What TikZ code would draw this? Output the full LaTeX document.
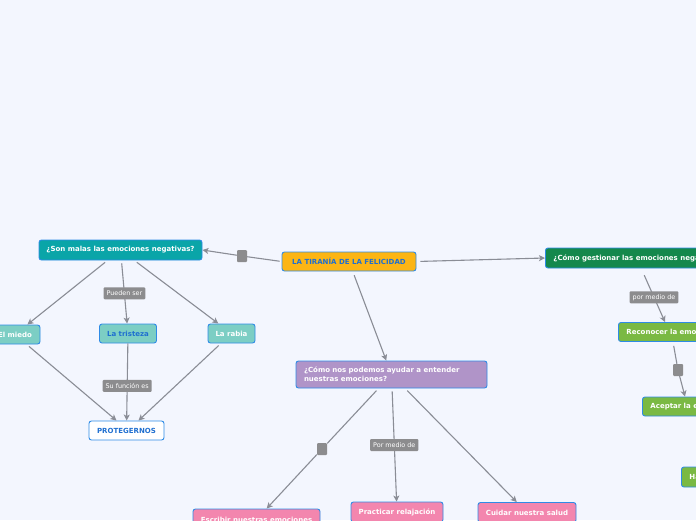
\documentclass[tikz,border=0pt]{standalone}
\usepackage{fontspec}
\setsansfont{DejaVu Sans}
\usetikzlibrary{arrows.meta,calc}
\definecolor{bg}{HTML}{F3F6FE}
\definecolor{bordc}{HTML}{2E8BE6}
\definecolor{txtblue}{HTML}{1F6FD0}
\definecolor{orangec}{HTML}{FCB514}
\definecolor{tealc}{HTML}{0AA5A8}
\definecolor{lteal}{HTML}{7CCEC4}
\definecolor{dgreen}{HTML}{14884C}
\definecolor{lgreen}{HTML}{7AB943}
\definecolor{purplec}{HTML}{B094C8}
\definecolor{pinkc}{HTML}{F386AE}
\definecolor{linec}{HTML}{8A8D96}
\definecolor{labc}{HTML}{8C8C8E}
\tikzset{
  box/.style={draw=bordc, line width=0.9pt, rounded corners=2.5pt, inner xsep=6pt, inner ysep=2pt,
    minimum height=19pt, font=\sffamily\bfseries\fontsize{7}{9}\selectfont, text=white},
  lab/.style={fill=labc, rounded corners=1pt, inner xsep=3pt, inner ysep=2pt, minimum height=12pt,
    font=\sffamily\fontsize{6.4}{7.5}\selectfont, text=white},
  sq/.style={fill=labc, rounded corners=1pt, minimum width=10pt, minimum height=12pt, inner sep=0pt},
  conn/.style={draw=linec, line width=1.1pt},
  arr/.style={conn, -{Stealth[length=6pt,width=6pt,inset=1.5pt]}},
}
\begin{document}
\begin{tikzpicture}[x=1pt,y=-1pt]
\useasboundingbox (0,0) rectangle (696,520);
\fill[bg] (0,0) rectangle (696,520);
\clip (0,0) rectangle (696,520);

% nodes
\node[box, fill=orangec, text=txtblue, minimum width=134pt] (main) at (349,261.5) {LA TIRANÍA DE LA FELICIDAD};
\node[box, fill=tealc, minimum width=163pt, minimum height=20pt] (malas) at (120.5,250) {¿Son malas las emociones negativas?};
\node[box, fill=lteal, minimum width=50pt] (miedo) at (15,334.5) {El miedo};
\node[box, fill=lteal, text=txtblue, minimum width=57pt] (tristeza) at (128,333.5) {La tristeza};
\node[box, fill=lteal, minimum width=47pt] (rabia) at (231.5,333.5) {La rabia};
\node[box, fill=white, text=txtblue, minimum width=75pt] (prot) at (126.5,430.5) {PROTEGERNOS};

\node[box, fill=dgreen, anchor=west, inner xsep=8pt, minimum height=20pt] (gest) at (545,258) {¿Cómo gestionar las emociones negativas?};
\node[box, fill=lgreen, anchor=west, inner xsep=8pt] (recon) at (618,332) {Reconocer la emoción};
\node[box, fill=lgreen, anchor=west, inner xsep=8pt] (acept) at (642,406.5) {Aceptar la emoción};
\node[box, fill=lgreen, anchor=west, inner xsep=8pt, minimum height=20pt] (hab) at (681,477) {Hablar de ella};

\node[box, fill=purplec, text width=175pt, inner xsep=8pt, align=left, minimum height=27pt] (ayudar) at (391.5,374.5) {¿Cómo nos podemos ayudar a entender\\nuestras emociones?};
\node[box, fill=pinkc, minimum width=127pt, minimum height=21pt] (escribir) at (256.5,519.5) {Escribir nuestras emociones};
\node[box, fill=pinkc, minimum width=92pt, minimum height=20pt] (relaj) at (397,512) {Practicar relajación};
\node[box, fill=pinkc, minimum width=98pt, minimum height=20pt] (salud) at (527,512.5) {Cuidar nuestra salud};

% connector squares
\node[sq] (s1) at (242,256) {};
\node[sq] (s2) at (678,370) {};
\node[sq] (s3) at (322,449) {};

% connectors
\draw[conn, shorten <=2pt] (main.west) -- (s1);
\draw[arr] (s1) -- (malas.east);
\draw[arr, shorten <=4pt] (main.east) -- (gest.west);
\draw[arr, shorten <=4pt] (main) -- (ayudar);

\draw[arr, shorten <=3pt] (malas) -- (miedo);
\draw[arr, shorten <=3pt] (malas) -- node[lab, pos=0.52] {Pueden ser} (tristeza);
\draw[arr, shorten <=3pt] (malas) -- (rabia);

\draw[arr, shorten <=3pt] (miedo) -- ($(prot.north)+(-10,0)$);
\draw[arr, shorten <=0pt] (tristeza) -- node[lab, pos=0.55] {Su función es} (prot);
\draw[arr, shorten <=3pt] (rabia) -- ($(prot.north)+(12,0)$);

\draw[arr, shorten <=3pt] ($(gest.south west)+(98,4)$) -- node[lab] {por medio de} ($(recon.north west)+(47,0)$);
\draw[conn, shorten <=4pt] ($(recon.south west)+(55,0)$) -- (s2);
\draw[arr] (s2) -- ($(acept.north west)+(43,0)$);

\draw[conn, shorten <=3pt] (ayudar) -- (s3);
\draw[arr] (s3) -- (escribir);
\draw[arr, shorten <=3pt] (ayudar) -- node[lab, pos=0.5] {Por medio de} (relaj);
\draw[arr, shorten <=3pt] (ayudar) -- (salud);
\end{tikzpicture}
\end{document}
